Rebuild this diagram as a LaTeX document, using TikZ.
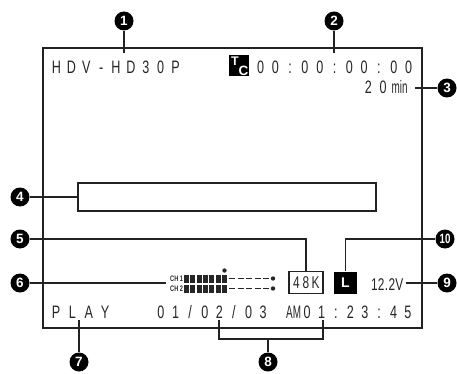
\documentclass[tikz,border=0pt]{standalone}
\usepackage{fontspec}
\setmainfont{Liberation Sans}
\newfontfamily\osdf[FakeStretch=0.7]{Liberation Sans}
\newfontfamily\osdam[FakeStretch=0.55]{Liberation Sans}
\newfontfamily\numnarrow[FakeStretch=0.72]{Liberation Sans}
\makeatletter
\newcommand\spc[2]{\def\spc@w{#1}\@tfor\spc@c:=#2\do{\makebox[\spc@w][c]{\spc@c}}}
\makeatother
\definecolor{txt}{HTML}{262626}
\definecolor{ln}{HTML}{222222}
\begin{document}
\begin{tikzpicture}[x=1pt,y=-1pt,
  osd/.style={inner sep=0pt, outer sep=0pt, anchor=base west, text=txt, font=\osdf\fontsize{18}{18}\selectfont},
  osdsmall/.style={inner sep=0pt, outer sep=0pt, text=txt, font=\osdf\fontsize{17}{17}\selectfont},
  chlab/.style={inner sep=0pt, outer sep=0pt, anchor=east, text=txt, font=\osdf\bfseries\fontsize{8}{8}\selectfont},
  num/.style={circle, fill=black, text=white, inner sep=0pt, minimum size=19pt, font=\bfseries\fontsize{13.5}{13.5}\selectfont},
  numten/.style={num, font=\numnarrow\bfseries\fontsize{13.5}{13.5}\selectfont},
  lead/.style={draw=ln, line width=1.6pt},
  frame/.style={draw=ln, line width=2.2pt},
  thinbox/.style={draw=ln, line width=1.3pt, inner sep=0pt},
  blk/.style={fill=txt, draw=none},
  meterdash/.style={draw=txt, line width=1.5pt, dash pattern=on 6pt off 2.6pt}
]
\useasboundingbox (0,0) rectangle (457,374);

% screen frame
\draw[frame] (43,48) rectangle (422,328);

% top line
\node[osd] (fmt) at (49,73.5) {\spc{14.9pt}{HDV-HD30P}};
\node[fill=black, inner sep=0pt, minimum width=20pt, minimum height=21pt] (tc) at (239,66) {};
\node[inner sep=0pt, text=white, font=\bfseries\fontsize{12.5}{12.5}\selectfont] (tct) at (235,61.5) {T};
\node[inner sep=0pt, text=white, font=\bfseries\fontsize{13.5}{13.5}\selectfont] (tcc) at (243.5,70.5) {C};
\node[osd] (tcode) at (253.2,73.5) {\spc{14.8pt}{00:00:00:00}};
\node[osd] (rem) at (361,94) {\spc{14.8pt}{20}\kern1pt{\osdam min}};

% message bar
\node[thinbox, minimum width=298pt, minimum height=28pt] (bar) at (227,197) {};

% audio meter
\node[chlab] (ch1) at (183,278.5) {CH 1};
\node[chlab] (ch2) at (183,288.5) {CH 2};
\foreach \i in {0,...,6} {
  \fill[blk] ({184+6.3*\i},274.5) rectangle ++(5,8);
  \fill[blk] ({184+6.3*\i},284.5) rectangle ++(5,8);
}
\draw[meterdash] (229,278.5) -- (270,278.5);
\draw[meterdash] (229,288.5) -- (270,288.5);
\fill[txt] (273,278.5) circle (2.2pt);
\fill[txt] (273,288.5) circle (2.2pt);
\fill[txt] (224.5,270.5) circle (2.2pt);

% audio fs, lock, battery
\node[thinbox, minimum width=34pt, minimum height=22pt] (fs) at (306,282.5) {};
\node[osdsmall] (fstxt) at (306,283) {\spc{9.6pt}{48K}};
\node[fill=black, inner sep=0pt, minimum width=23pt, minimum height=22pt] (lk) at (345.5,282.5) {};
\node[inner sep=0pt, text=white, font=\bfseries\fontsize{14}{14}\selectfont] (lktxt) at (345.5,282.5) {L};
\node[inner sep=0pt, anchor=base west, text=txt, font=\osdf\fontsize{17}{17}\selectfont] (batt) at (371,290) {12\kern0.5pt.\kern0.5pt2V};

% bottom line
\node[osd] (mode) at (48,318.5) {\spc{16.3pt}{PLAY}};
\node[osd] (date) at (153.7,318.5) {\spc{14.6pt}{01/02/03}};
\node[inner sep=0pt, anchor=base west, text=txt, font=\osdam\fontsize{18}{18}\selectfont] (am) at (286,318.5) {AM};
\node[osd] (time) at (300,318.5) {\spc{14.4pt}{01:23:45}};

% callout numbers
\node[num] (n1) at (124,21) {1};
\node[num] (n2) at (334,21) {2};
\node[num] (n3) at (447,88) {3};
\node[num] (n4) at (20,197) {4};
\node[num] (n5) at (20,239) {5};
\node[num] (n6) at (20,283) {6};
\node[num] (n7) at (79,362) {7};
\node[num] (n8) at (268,362) {8};
\node[num] (n9) at (447,283) {9};
\node[numten] (n10) at (445,239) {10};

% connector ends
\coordinate (e1) at (124,53);
\coordinate (e2) at (334,53);
\coordinate (e3) at (415,88);
\coordinate (e6) at (166,283);
\coordinate (e7) at (79,320);
\coordinate (e9) at (406,283);
\coordinate (b1) at (219,320);
\coordinate (b2) at (323,320);
\coordinate (b3) at (219,339);
\coordinate (b4) at (323,339);
\coordinate (bm) at (268,339);

% connectors
\draw[lead] (n1) -- (e1);
\draw[lead] (n2) -- (e2);
\draw[lead] (n3) -- (e3);
\draw[lead] (n4) -- (bar.west);
\draw[lead] (n5) -| (fs.north);
\draw[lead] (n10) -| (lk.north);
\draw[lead] (n6) -- (e6);
\draw[lead] (n9) -- (e9);
\draw[lead] (n7) -- (e7);
\draw[lead] (b1) -- (b3) -- (b4) -- (b2);
\draw[lead] (n8) -- (bm);
\end{tikzpicture}
\end{document}
